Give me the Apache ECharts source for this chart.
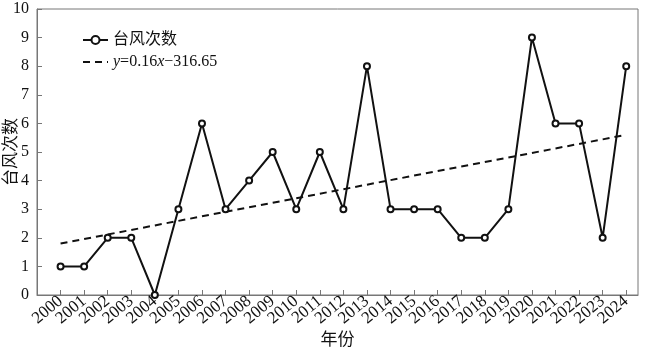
<!DOCTYPE html>
<html>
<head>
<meta charset="utf-8">
<script src="https://cdn.jsdelivr.net/npm/echarts@6/dist/echarts.min.js"></script>
<style>
html,body{margin:0;padding:0;background:#fff;}
#chart{width:650px;height:352px;}
</style>
</head>
<body>
<div id="chart"></div>
<script>
// 台风次数 2000-2024
var years = [2000,2001,2002,2003,2004,2005,2006,2007,2008,2009,2010,2011,2012,
    2013,2014,2015,2016,2017,2018,2019,2020,2021,2022,2023,2024];
var counts = [1,1,2,2,0,3,6,3,4,5,3,5,3,8,3,3,3,2,2,3,9,6,6,2,8];
// 趋势线两端
var trendYears = [2000, 2024];
var trendValues = [1.8, 5.6];

var serif = '"Liberation Serif", "Noto Sans CJK SC", serif';
var cjk = '"Liberation Serif", "Noto Sans CJK SC", serif';

var lineData = [];
for (var i = 0; i < years.length; i++) {
    lineData.push([years[i], counts[i]]);
}
var trendData = [];
for (var j = 0; j < trendYears.length; j++) {
    trendData.push([trendYears[j], trendValues[j]]);
}

var myChart = echarts.init(document.getElementById('chart'));
var option = {
    animation: false,
    backgroundColor: '#fff',
    grid: {left: 37, right: 12, top: 9, bottom: 57, outerBoundsMode: 'none', containLabel: false,
        show: true, borderColor: '#777', borderWidth: 1},
    legend: {
        left: 77, top: 27, orient: 'vertical', itemGap: 6,
        itemWidth: 25, itemHeight: 10, textStyle: {
            fontFamily: cjk, fontSize: 16, color: '#111',
            rich: {i: {fontStyle: 'italic', fontFamily: serif, fontSize: 16, color: '#111'}}
        },
        formatter: function (name) {
            if (name === 'trend') return '{i|y}=0.16{i|x}\u2212316.65';
            return name;
        },
        data: ['台风次数', {name: 'trend', itemStyle: {opacity: 0}}]
    },
    xAxis: {
        type: 'value', min: 1999, max: 2024.5, interval: 1,
        name: '年份', nameLocation: 'middle', nameGap: 37, nameMoveOverlap: false,
        nameTextStyle: {fontFamily: cjk, fontSize: 17, color: '#111'},
        axisLine: {lineStyle: {color: '#777'}},
        axisTick: {inside: true, length: 5, lineStyle: {color: '#777'}},
        splitLine: {show: false},
        axisLabel: {
            rotate: 40, fontFamily: serif, fontSize: 17, color: '#111', margin: 4,
            showMaxLabel: false, hideOverlap: false,
            formatter: function (v) { return v < 2000 || v > 2024 ? '' : String(v); }
        }
    },
    yAxis: {
        type: 'value', min: 0, max: 10, interval: 1,
        name: '台风次数', nameLocation: 'middle', nameGap: 17, nameRotate: 90, nameMoveOverlap: false,
        nameTextStyle: {fontFamily: cjk, fontSize: 17, color: '#111'},
        axisLine: {show: true, lineStyle: {color: '#777'}},
        axisTick: {inside: true, length: 5, lineStyle: {color: '#777'}},
        splitLine: {show: false},
        axisLabel: {fontFamily: serif, fontSize: 16, color: '#111', margin: 8}
    },
    series: [{
        name: '台风次数',
        type: 'line',
        data: lineData,
        symbol: 'circle', symbolSize: 6, showAllSymbol: true,
        lineStyle: {color: '#111', width: 2},
        itemStyle: {color: '#fff', borderColor: '#111', borderWidth: 2}
    }, {
        name: 'trend',
        type: 'line',
        data: trendData,
        symbol: 'none',
        lineStyle: {color: '#111', width: 2, type: [7, 5]},
        itemStyle: {color: '#111'}
    }]
};
myChart.setOption(option);
</script>
</body>
</html>
